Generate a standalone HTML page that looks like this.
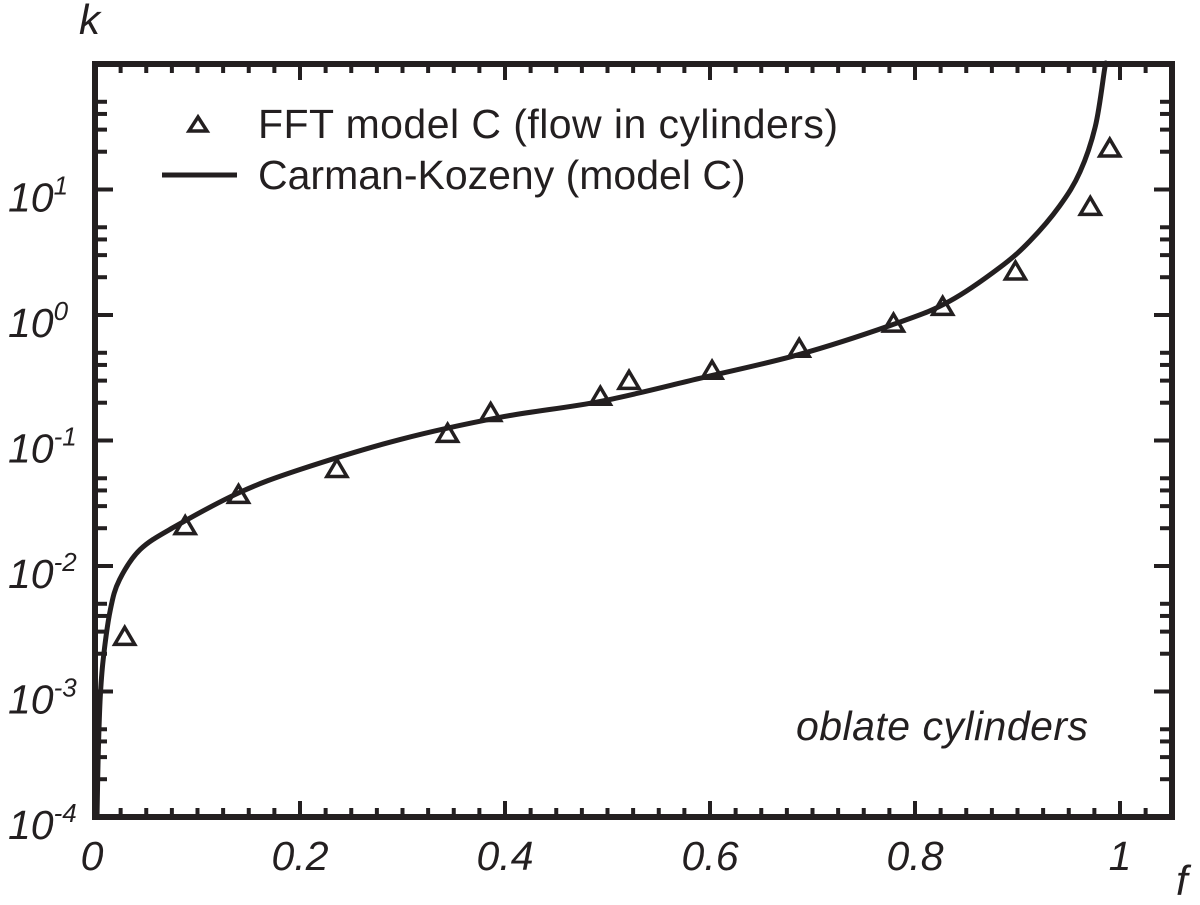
<!DOCTYPE html>
<html><head><meta charset="utf-8"><style>
body{margin:0;background:#fff}
svg{display:block}
text{font-family:"Liberation Sans",sans-serif;fill:#231f20}
</style></head><body>
<svg id="chart" width="1200" height="905" viewBox="0 0 1200 905" xmlns="http://www.w3.org/2000/svg">
<g id="ticks"></g>
<g id="labels"></g>
<path id="curve" fill="none" stroke="#231f20" stroke-width="5" stroke-linejoin="round"/>
<g id="markers"></g>
<rect x="95" y="64" width="1077" height="753" fill="none" stroke="#231f20" stroke-width="6"/>
<text x="79" y="34" font-size="42" font-style="italic">k</text>
<text x="1176" y="895" font-size="42" font-style="italic">f</text>
<text x="796" y="740" font-size="41" font-style="italic" textLength="292">oblate cylinders</text>
<g>
<path d="M198 117 L207 131 L189 131 Z" fill="none" stroke="#231f20" stroke-width="3.5"/>
<text x="258" y="138" font-size="41" textLength="580">FFT model C (flow in cylinders)</text>
<line x1="162" y1="175" x2="237" y2="175" stroke="#231f20" stroke-width="5"/>
<text x="258" y="189" font-size="41">Carman-Kozeny (model C)</text>
</g>
</svg>
<script>
const xTickLabels=["0","0.2","0.4","0.6","0.8","1"];
const xTickValues=[0,0.2,0.4,0.6,0.8,1];
const yTickExps=[-4,-3,-2,-1,0,1];
const fftF=[0.029,0.088,0.140,0.236,0.344,0.386,0.493,0.521,0.602,0.687,0.779,0.827,0.898,0.971,0.990];
const fftK=[0.0027,0.0206,0.0365,0.0587,0.112,0.164,0.221,0.296,0.356,0.533,0.845,1.15,2.2,7.2,21];
const ckF=[0.002,0.003,0.005,0.008,0.015,0.024,0.044,0.078,0.141,0.2,0.298,0.395,0.493,0.590,0.688,0.785,0.834,0.883,0.912,0.941,0.961,0.976,0.985,0.986];
const ckK=[0.0001,0.000285,0.00086,0.0018,0.0045,0.0078,0.0135,0.0206,0.0385,0.0587,0.102,0.153,0.205,0.313,0.487,0.877,1.29,2.40,3.88,7.38,13.8,32,91,100];

const NS="http://www.w3.org/2000/svg";
const X0=95,X1=1172,Y0=817,Y1=64;
const xs=f=>X0+f*1025;
const ys=k=>Y0-(Math.log10(k)+4)*125.5;
function mk(tag,attrs,parent){const e=document.createElementNS(NS,tag);for(const a in attrs)e.setAttribute(a,attrs[a]);parent.appendChild(e);return e;}
const tg=document.getElementById('ticks');
for(let i=1;i*0.025<1.05;i++){
  const f=i*0.025,x=xs(f),major=(i%8===0);
  const L=major?16:9;
  const t1=mk('line',{x1:x,y1:Y0,x2:x,y2:Y0-L,stroke:'#231f20','stroke-width':4},tg);
  
  
  const t2=mk('line',{x1:x,y1:Y1,x2:x,y2:Y1+L,stroke:'#231f20','stroke-width':4},tg);
  
  
}
for(let e=-4;e<2;e++){
  for(let m=1;m<=5;m++){
    const y=ys(m*Math.pow(10,e));if(m===1&&e===-4)continue;
    const L=m===1?18:12;
    const a=mk('line',{x1:X0,y1:y,x2:X0+L,y2:y,stroke:'#231f20','stroke-width':4},tg);
    
    
    const b=mk('line',{x1:X1,y1:y,x2:X1-L,y2:y,stroke:'#231f20','stroke-width':4},tg);
    
    
  }
}
const lg=document.getElementById('labels');
xTickValues.forEach((v,i)=>{
  const t=mk('text',{x:xs(v)+(i===0?-3:0),y:870,'font-size':41,'font-style':'italic','text-anchor':'middle'},lg);
  t.textContent=xTickLabels[i];
  
  
});
yTickExps.forEach(e=>{
  const y=ys(Math.pow(10,e));
  const t=mk('text',{x:8,y:y+22,'font-size':41,'font-style':'italic'},lg);
  t.textContent='10';
  
  
  const s=mk('tspan',{dy:-17,'font-size':26},t);
  s.textContent=String(e);
});
// smooth curve (Catmull-Rom)
const P=ckF.map((f,i)=>[xs(f),ys(ckK[i])]);
let d='M'+P[0][0].toFixed(1)+' '+P[0][1].toFixed(1);
for(let i=0;i<P.length-1;i++){
  const p0=P[Math.max(0,i-1)],p1=P[i],p2=P[i+1],p3=P[Math.min(P.length-1,i+2)];
  const c1=[p1[0]+(p2[0]-p0[0])/6,p1[1]+(p2[1]-p0[1])/6];
  const c2=[p2[0]-(p3[0]-p1[0])/6,p2[1]-(p3[1]-p1[1])/6];
  d+=`C${c1[0].toFixed(1)} ${c1[1].toFixed(1)} ${c2[0].toFixed(1)} ${c2[1].toFixed(1)} ${p2[0].toFixed(1)} ${p2[1].toFixed(1)}`;
}
document.getElementById('curve').setAttribute('d',d);
const mg=document.getElementById('markers');
fftF.forEach((f,i)=>{
  const x=xs(f),y=ys(fftK[i]);
  const p=mk('path',{d:`M${x} ${y-10} L${x+10} ${y+7} L${x-10} ${y+7} Z`,fill:'none',stroke:'#231f20','stroke-width':3.5},mg);
  
  
});
</script>
</body></html>
